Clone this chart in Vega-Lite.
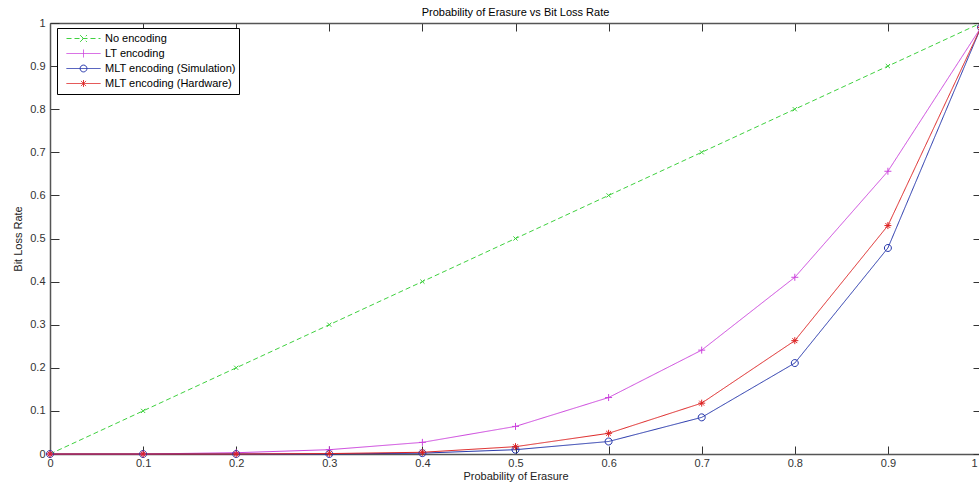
{
  "$schema": "https://vega.github.io/schema/vega-lite/v6.json",
  "autosize": "none",
  "width": 931,
  "height": 431,
  "padding": {"left": 50, "top": 23, "right": 0, "bottom": 29},
  "background": "white",
  "config": {"font": "Liberation Sans", "view": {"stroke": null}},
  "title": {"text": "Probability of Erasure vs Bit Loss Rate", "fontSize": 11, "fontWeight": "normal", "color": "#000", "anchor": "middle", "offset": -1},
  "data": {"values": [
    {"p": 0, "rate": 0, "series": "No encoding"},
    {"p": 0.1, "rate": 0.1, "series": "No encoding"},
    {"p": 0.2, "rate": 0.2, "series": "No encoding"},
    {"p": 0.3, "rate": 0.3, "series": "No encoding"},
    {"p": 0.4, "rate": 0.4, "series": "No encoding"},
    {"p": 0.5, "rate": 0.5, "series": "No encoding"},
    {"p": 0.6, "rate": 0.6, "series": "No encoding"},
    {"p": 0.7, "rate": 0.7, "series": "No encoding"},
    {"p": 0.8, "rate": 0.8, "series": "No encoding"},
    {"p": 0.9, "rate": 0.9, "series": "No encoding"},
    {"p": 1, "rate": 1, "series": "No encoding"},
    {"p": 0, "rate": 0, "series": "LT encoding"},
    {"p": 0.1, "rate": 0, "series": "LT encoding"},
    {"p": 0.2, "rate": 0.003, "series": "LT encoding"},
    {"p": 0.3, "rate": 0.01, "series": "LT encoding"},
    {"p": 0.4, "rate": 0.027, "series": "LT encoding"},
    {"p": 0.5, "rate": 0.064, "series": "LT encoding"},
    {"p": 0.6, "rate": 0.131, "series": "LT encoding"},
    {"p": 0.7, "rate": 0.241, "series": "LT encoding"},
    {"p": 0.8, "rate": 0.41, "series": "LT encoding"},
    {"p": 0.9, "rate": 0.656, "series": "LT encoding"},
    {"p": 1, "rate": 0.99, "series": "LT encoding"},
    {"p": 0, "rate": 0, "series": "MLT encoding (Simulation)"},
    {"p": 0.1, "rate": 0, "series": "MLT encoding (Simulation)"},
    {"p": 0.2, "rate": 0, "series": "MLT encoding (Simulation)"},
    {"p": 0.3, "rate": 0, "series": "MLT encoding (Simulation)"},
    {"p": 0.4, "rate": 0.002, "series": "MLT encoding (Simulation)"},
    {"p": 0.5, "rate": 0.01, "series": "MLT encoding (Simulation)"},
    {"p": 0.6, "rate": 0.029, "series": "MLT encoding (Simulation)"},
    {"p": 0.7, "rate": 0.085, "series": "MLT encoding (Simulation)"},
    {"p": 0.8, "rate": 0.211, "series": "MLT encoding (Simulation)"},
    {"p": 0.9, "rate": 0.478, "series": "MLT encoding (Simulation)"},
    {"p": 1, "rate": 0.99, "series": "MLT encoding (Simulation)"},
    {"p": 0, "rate": 0, "series": "MLT encoding (Hardware)"},
    {"p": 0.1, "rate": 0, "series": "MLT encoding (Hardware)"},
    {"p": 0.2, "rate": 0, "series": "MLT encoding (Hardware)"},
    {"p": 0.3, "rate": 0.001, "series": "MLT encoding (Hardware)"},
    {"p": 0.4, "rate": 0.004, "series": "MLT encoding (Hardware)"},
    {"p": 0.5, "rate": 0.017, "series": "MLT encoding (Hardware)"},
    {"p": 0.6, "rate": 0.048, "series": "MLT encoding (Hardware)"},
    {"p": 0.7, "rate": 0.118, "series": "MLT encoding (Hardware)"},
    {"p": 0.8, "rate": 0.263, "series": "MLT encoding (Hardware)"},
    {"p": 0.9, "rate": 0.53, "series": "MLT encoding (Hardware)"},
    {"p": 1, "rate": 0.99, "series": "MLT encoding (Hardware)"}
  ]},
  "layer": [
    {
      "mark": {"type": "line", "strokeWidth": 1},
      "encoding": {
        "x": {"field": "p", "type": "quantitative", "scale": {"domain": [0, 1], "nice": false},
          "axis": {"orient": "bottom", "values": [0, 0.1, 0.2, 0.3, 0.4, 0.5, 0.6, 0.7, 0.8, 0.9, 1], "format": ".1~f", "grid": false,
            "tickSize": -8, "tickColor": "#333", "domainColor": "#555", "domainWidth": 1.5, "labelPadding": 11, "labelFontSize": 11, "labelColor": "#333",
            "labelAlign": {"condition": {"test": "datum.value === 1", "value": "right"}, "value": "center"},
            "labelOffset": {"condition": {"test": "datum.value === 1", "value": -4}, "value": 0},
            "labelFlush": false, "labelOverlap": false, "title": "Probability of Erasure", "titleFontSize": 11, "titleFontWeight": "normal", "titleColor": "#222", "titlePadding": 2}},
        "y": {"field": "rate", "type": "quantitative", "scale": {"domain": [0, 1], "nice": false},
          "axis": {"orient": "left", "values": [0, 0.1, 0.2, 0.3, 0.4, 0.5, 0.6, 0.7, 0.8, 0.9, 1], "format": ".1~f", "grid": false,
            "tickSize": -9, "tickColor": "#333", "domainColor": "#555", "domainWidth": 1.5, "labelPadding": 14, "labelFontSize": 11, "labelColor": "#333",
            "labelFlush": false, "labelOverlap": false, "title": "Bit Loss Rate", "titleFontSize": 11, "titleFontWeight": "normal", "titleColor": "#222", "titlePadding": 6}},
        "color": {"field": "series", "type": "nominal",
          "scale": {"domain": ["No encoding", "LT encoding", "MLT encoding (Simulation)", "MLT encoding (Hardware)"], "range": ["#3fd13f", "#cc44dd", "#2233aa", "#dd2222"]},
          "legend": {"title": null, "orient": "none", "legendX": 7, "legendY": 5, "fillColor": "white", "strokeColor": "#000", "padding": 3,
            "symbolSize": 1156, "clipHeight": 15, "rowPadding": 0, "symbolOffset": 6, "labelOffset": 4, "labelFontSize": 11, "labelColor": "#000",
            "symbolStrokeWidth": 1, "cornerRadius": 0,
            "encode": {"symbols": {"update": {
              "shape": {"signal": "datum.value === 'No encoding' ? 'M-1,0L1,0M-0.2,-0.2L0.2,0.2M-0.2,0.2L0.2,-0.2' : datum.value === 'LT encoding' ? 'M-1,0L1,0M0,-0.23L0,0.23' : datum.value === 'MLT encoding (Simulation)' ? 'M-1,0L1,0M0.2,0A0.2,0.2,0,1,1,-0.2,0A0.2,0.2,0,1,1,0.2,0' : 'M-1,0L1,0M0,-0.2L0,0.2M-0.15,-0.15L0.15,0.15M-0.15,0.15L0.15,-0.15'"},
              "fill": {"value": "transparent"},
              "size": {"value": 1156}}}}}},
        "strokeDash": {"field": "series", "type": "nominal",
          "scale": {"domain": ["No encoding", "LT encoding", "MLT encoding (Simulation)", "MLT encoding (Hardware)"], "range": [[5, 3], [1, 0], [1, 0], [1, 0]]},
          "legend": {"title": null, "orient": "none", "legendX": 7, "legendY": 5}}
      }
    },
    {
      "transform": [{"filter": "datum.series === 'No encoding'"}],
      "mark": {"type": "point", "filled": false, "strokeWidth": 1, "size": 49, "opacity": 1, "shape": "M-0.6,-0.6L0.6,0.6M-0.6,0.6L0.6,-0.6"},
      "encoding": {
        "x": {"field": "p", "type": "quantitative",
          "axis": {"orient": "top", "values": [0, 0.1, 0.2, 0.3, 0.4, 0.5, 0.6, 0.7, 0.8, 0.9, 1], "labels": false, "title": null, "grid": false,
            "tickSize": -8, "tickColor": "#333", "domainColor": "#555", "domainWidth": 1.5}},
        "y": {"field": "rate", "type": "quantitative",
          "axis": {"orient": "right", "values": [0, 0.1, 0.2, 0.3, 0.4, 0.5, 0.6, 0.7, 0.8, 0.9, 1], "labels": false, "title": null, "grid": false,
            "tickSize": -8, "tickColor": "#333", "domainColor": "#555", "domainWidth": 1.5}},
        "color": {"field": "series", "type": "nominal"}
      }
    },
    {
      "transform": [{"filter": "datum.series === 'LT encoding'"}],
      "mark": {"type": "point", "filled": false, "strokeWidth": 1, "size": 49, "opacity": 1, "shape": "M-1,0L1,0M0,-1L0,1"},
      "encoding": {
        "x": {"field": "p", "type": "quantitative", "axis": null},
        "y": {"field": "rate", "type": "quantitative", "axis": null},
        "color": {"field": "series", "type": "nominal"}
      }
    },
    {
      "transform": [{"filter": "datum.series === 'MLT encoding (Simulation)'"}],
      "mark": {"type": "point", "filled": false, "strokeWidth": 1, "size": 49, "opacity": 1, "shape": "M1,0A1,1,0,1,1,-1,0A1,1,0,1,1,1,0"},
      "encoding": {
        "x": {"field": "p", "type": "quantitative", "axis": null},
        "y": {"field": "rate", "type": "quantitative", "axis": null},
        "color": {"field": "series", "type": "nominal"}
      }
    },
    {
      "transform": [{"filter": "datum.series === 'MLT encoding (Hardware)'"}],
      "mark": {"type": "point", "filled": false, "strokeWidth": 1, "size": 49, "opacity": 1, "shape": "M-1,0L1,0M0,-1L0,1M-0.7,-0.7L0.7,0.7M-0.7,0.7L0.7,-0.7"},
      "encoding": {
        "x": {"field": "p", "type": "quantitative", "axis": null},
        "y": {"field": "rate", "type": "quantitative", "axis": null},
        "color": {"field": "series", "type": "nominal"}
      }
    }
  ],
  "resolve": {"axis": {"x": "independent", "y": "independent"}}
}
